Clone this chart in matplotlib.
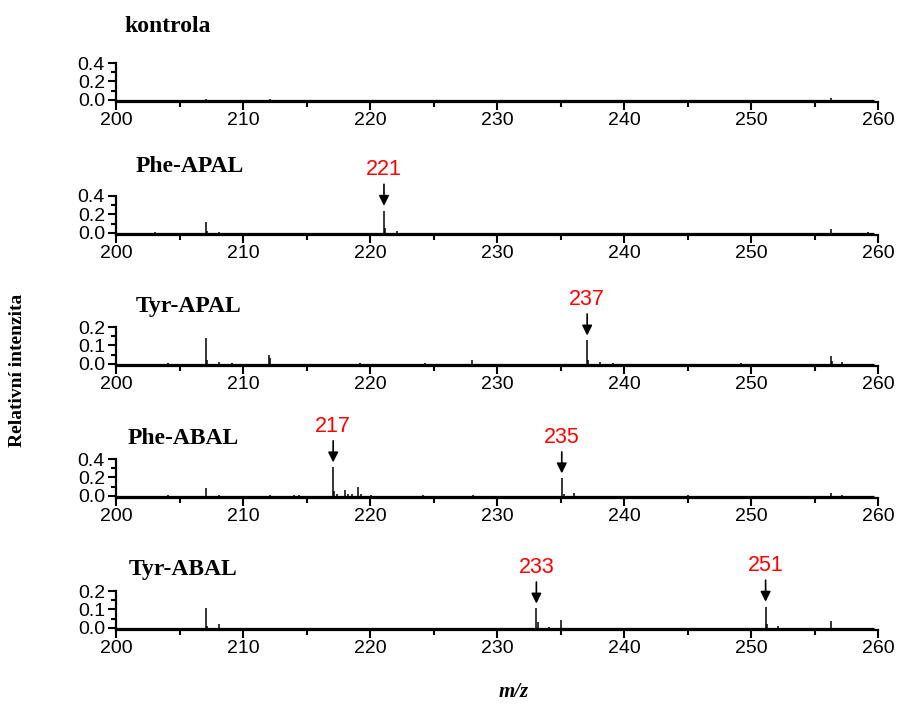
import matplotlib.pyplot as plt
from matplotlib.ticker import MultipleLocator
import numpy as np

# stick spectra (m/z, relative intensity)
names = ['kontrola', 'Phe-APAL', 'Tyr-APAL', 'Phe-ABAL', 'Tyr-ABAL']

mz_kon = [207.1, 212.1, 256.3]
int_kon = [0.008, 0.006, 0.02]

mz_phe_apal = [203.1, 207.05, 207.15, 208.1, 221.1, 221.2, 222.1, 256.3, 259.2]
int_phe_apal = [0.01, 0.115, 0.02, 0.01, 0.24, 0.05, 0.02, 0.035, 0.01]

mz_tyr_apal = [204.1, 207.05, 207.15, 208.1, 209.1, 212.05, 212.15, 219.2,
               224.3, 228.0, 237.1, 237.2, 238.1, 239.1, 249.2, 256.3,
               256.4, 257.2]
int_tyr_apal = [0.005, 0.142, 0.02, 0.012, 0.005, 0.045, 0.03, 0.005,
                0.005, 0.02, 0.127, 0.02, 0.012, 0.005, 0.004, 0.04,
                0.015, 0.008]

mz_phe_abal = [204.1, 207.05, 208.1, 212.1, 214.0, 214.4, 217.1, 217.2,
               217.4, 218.05, 218.3, 218.6, 219.05, 219.3, 220.1, 224.2,
               228.1, 235.1, 235.25, 236.1, 245.0, 256.3, 257.2]
int_phe_abal = [0.004, 0.08, 0.01, 0.005, 0.004, 0.008, 0.31, 0.05,
                0.02, 0.06, 0.02, 0.015, 0.095, 0.02, 0.01, 0.005,
                0.004, 0.19, 0.02, 0.025, 0.004, 0.025, 0.01]

mz_tyr_abal = [207.05, 207.15, 208.1, 233.1, 233.2, 234.1, 235.05, 251.15,
               251.25, 252.15, 256.3]
int_tyr_abal = [0.108, 0.01, 0.02, 0.105, 0.03, 0.005, 0.04, 0.115,
                0.02, 0.01, 0.035]

all_mz = [mz_kon, mz_phe_apal, mz_tyr_apal, mz_phe_abal, mz_tyr_abal]
all_int = [int_kon, int_phe_apal, int_tyr_apal, int_phe_abal, int_tyr_abal]

# marked peaks
marked_mz = [[], [221.1], [237.1], [217.1, 235.1], [233.1, 251.15]]
marked_lab = [[], ['221'], ['237'], ['217', '235'], ['233', '251']]

y_max = [0.4, 0.4, 0.2, 0.4, 0.2]
x_ticks = [200, 210, 220, 230, 240, 250, 260]

plt.rcParams.update({'font.family': 'Liberation Sans', 'font.size': 14})

W, H = 899, 705
fig = plt.figure(figsize=(W / 100, H / 100), dpi=100)

ax_bottom_px = [102, 235, 366, 498, 630]
title_px = [(124, 32), (136, 172), (136, 312), (128, 444), (129, 575)]
left, width, height = 116 / W, 762 / W, 39 / H

for i in range(5):
    ax = fig.add_axes([left, 1 - ax_bottom_px[i] / H, width, height])
    ymax = y_max[i]
    ax.hlines(0, 200, 259.7, color='k', lw=0.9)
    ax.vlines(all_mz[i], 0, all_int[i], color='k', lw=1.1)
    ax.set_xlim(200, 260)
    ax.set_ylim(-ymax / 16, ymax)
    ax.set_xticks(x_ticks)
    ax.xaxis.set_minor_locator(MultipleLocator(5))
    ax.set_yticks([0, ymax / 2, ymax])
    ax.yaxis.set_minor_locator(MultipleLocator(ymax / 4))
    ax.yaxis.set_major_formatter(plt.FormatStrFormatter('%.1f'))
    for s in ['top', 'right']:
        ax.spines[s].set_visible(False)
    for s in ['left', 'bottom']:
        ax.spines[s].set_linewidth(1.6)
    ax.tick_params(which='major', length=6, width=1.5, pad=1,
                   labelsize=14)
    ax.tick_params(axis='y', which='major', pad=2)
    ax.tick_params(which='minor', length=3.5, width=1.5)
    ax.patch.set_alpha(0)

    peaks = dict(zip(all_mz[i], all_int[i]))
    for m, lab in zip(marked_mz[i], marked_lab[i]):
        ax.annotate(lab, xy=(m, peaks[m]), xytext=(0, 22),
                    textcoords='offset points', ha='center', va='bottom',
                    color='red', fontsize=15.5, annotation_clip=False,
                    arrowprops=dict(arrowstyle='-|>', color='k', lw=1.2,
                                    mutation_scale=15, shrinkA=1,
                                    shrinkB=3.5))

    tx, ty = title_px[i]
    fig.text(tx / W, 1 - ty / H, names[i], family='Liberation Serif',
             weight='bold', fontsize=17, va='baseline', ha='left')

fig.text(18 / W, 1 - 370 / H, 'Relativní intenzita', family='Liberation Serif',
         weight='bold', fontsize=14, rotation=90, ha='center', va='center')
fig.text(514 / W, 1 - 692 / H, 'm/z', family='Liberation Serif',
         weight='bold', style='italic', fontsize=15, ha='center', va='center')

fig.savefig('out.png', dpi=100)
